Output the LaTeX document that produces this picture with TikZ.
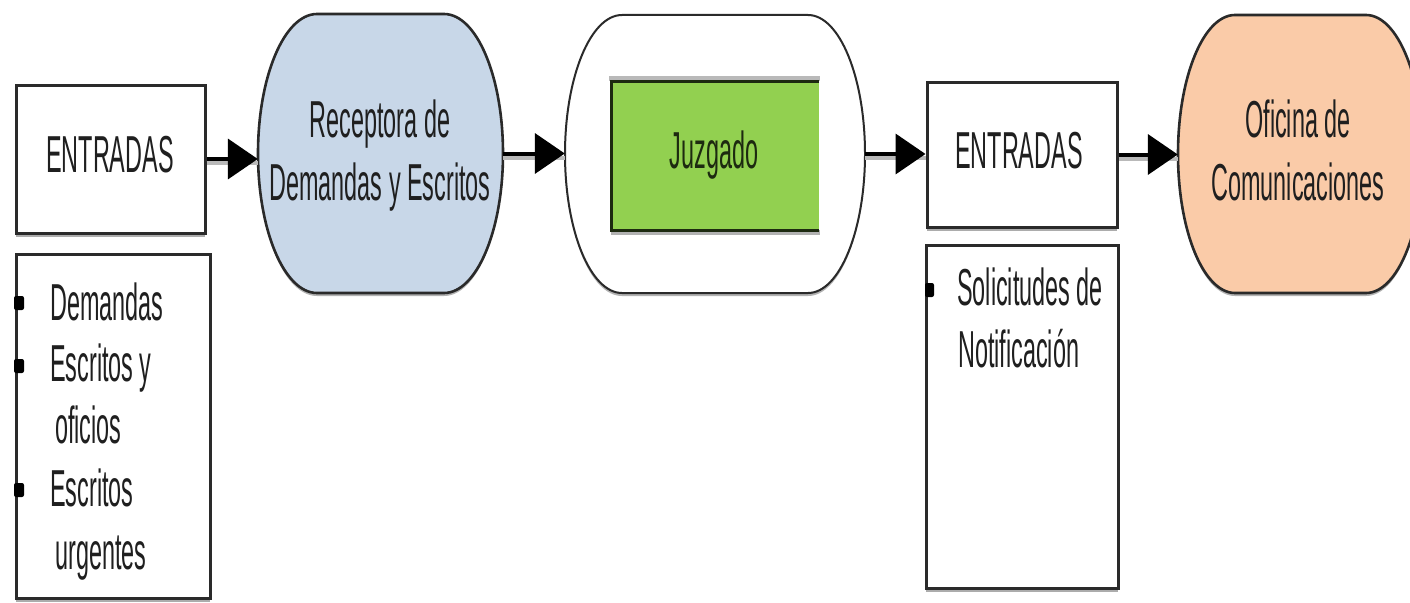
\documentclass[tikz,border=0pt]{standalone}
\usepackage{fontspec}
\newfontfamily\narsans[FakeStretch=0.45]{Liberation Sans}
\usetikzlibrary{arrows.meta,shadows}
\definecolor{recblue}{HTML}{C8D7E8}
\definecolor{ofipeach}{HTML}{FACBA8}
\definecolor{juzgreen}{HTML}{92D050}
\definecolor{edge}{HTML}{2A2A2A}
% x1 x2 top bottom rx : barrel-shaped process symbol
\newcommand\barrelshape[6]{%
\path[#1] (#2,#4) -- (#3,#4)
 .. controls ({#3+0.5523*#6},#4) and ({#3+#6},{#4+0.2238*(#5-#4)}) .. ({#3+#6},{0.5*(#4+#5)})
 .. controls ({#3+#6},{#5-0.2238*(#5-#4)}) and ({#3+0.5523*#6},#5) .. (#3,#5)
 -- (#2,#5)
 .. controls ({#2-0.5523*#6},#5) and ({#2-#6},{#5-0.2238*(#5-#4)}) .. ({#2-#6},{0.5*(#4+#5)})
 .. controls ({#2-#6},{#4+0.2238*(#5-#4)}) and ({#2-0.5523*#6},#4) .. (#2,#4) -- cycle;}
\tikzset{
  txt/.style={inner sep=0pt, anchor=base, text=black!88, font=\narsans\fontsize{52}{62}\selectfont},
  txtl/.style={txt, anchor=base west},
  boxnode/.style={draw=edge, line width=3pt, fill=white, inner sep=0pt,
     drop shadow={shadow xshift=0pt, shadow yshift=-4pt, fill=gray!65, opacity=1}},
  area/.style={inner sep=0pt, draw=none},
  shapeline/.style={draw=edge, line width=2.6pt,
     drop shadow={shadow xshift=0pt, shadow yshift=-3pt, fill=gray!60, opacity=1}},
  arr/.style={line width=4pt, black, -{Triangle[length=30pt,width=40pt]},
     preaction={draw=gray!55, line width=4pt, -, transform canvas={yshift=-4pt}}},
  bullet/.style={fill=black, rounded corners=2pt}
}
\begin{document}
\begin{tikzpicture}[x=1pt,y=-1pt]
\clip (0,0) rectangle (1410,602);
\fill[white] (0,0) rectangle (1410,602);

% ---- left ENTRADAS and list
\node[boxnode, minimum width=189pt, minimum height=148pt] (e1) at (110.5,159) {};
\node[txt] (e1t) at (110,172) {ENTRADAS};
\node[boxnode, minimum width=194pt, minimum height=344pt] (l1) at (113,426) {};
\node[txtl] (l1a) at (50,320) {Demandas};
\node[txtl] (l1b) at (50,381) {Escritos y};
\node[txtl] (l1c) at (55,443) {oficios};
\node[txtl] (l1d) at (50,506) {Escritos};
\node[txtl] (l1e) at (55,569) {urgentes};
\fill[bullet] (14,296) rectangle (24,310);
\fill[bullet] (14,359) rectangle (24,373);
\fill[bullet] (14,483) rectangle (24,497);

% ---- Receptora
\barrelshape{shapeline, fill=recblue}{317}{444}{14}{293}{59}
\node[area, minimum width=245pt, minimum height=279pt] (rec) at (380.5,153.5) {};
\node[txt] (rect1) at (380,137) {Receptora de};
\node[txt] (rect2) at (380,200) {Demandas y Escritos};

% ---- Juzgado
\barrelshape{draw=edge, line width=2pt, fill=white, drop shadow={shadow xshift=0pt, shadow yshift=-3pt, fill=gray!60, opacity=1}}{622}{808}{15}{293}{57}
\node[area, minimum width=300pt, minimum height=278pt] (juz) at (715,154) {};
\fill[gray!55] (609,76) rectangle (820,81);
\fill[gray!60] (611,230) rectangle (820,235);
\fill[juzgreen] (611,81) rectangle (819,230);
\draw[draw=black!80!juzgreen, line width=3pt] (819,81) -- (611,81) -- (611,230) -- (819,230);
\node[area, minimum width=208pt, minimum height=149pt] (juzin) at (715,155.5) {};
\node[txt, text=black!80!juzgreen] (juzt) at (714,168) {Juzgado};

% ---- right ENTRADAS and list
\node[boxnode, minimum width=190pt, minimum height=145pt] (e2) at (1022,154.5) {};
\node[txt] (e2t) at (1019,168) {ENTRADAS};
\node[boxnode, minimum width=192pt, minimum height=343pt] (l2) at (1022,416.5) {};
\node[txtl] (l2a) at (957,305) {Solicitudes de};
\node[txtl] (l2b) at (958,367) {Notificación};
\fill[bullet] (925,283) rectangle (934,297);

% ---- Oficina
\barrelshape{shapeline, fill=ofipeach}{1235}{1366}{15}{293}{57}
\node[area, minimum width=245pt, minimum height=278pt] (ofi) at (1300.5,154) {};
\node[txt] (ofit1) at (1298,137) {Oficina de};
\node[txt] (ofit2) at (1298,200) {Comunicaciones};

% ---- connectors
\draw[arr] (e1.east) -- (e1.east -| rec.west);
\draw[arr] (rec.east) -- (rec.east -| juz.west);
\draw[arr] (juz.east) -- (juz.east -| e2.west);
\draw[arr] (e2.east) -- (e2.east -| ofi.west);
\end{tikzpicture}
\end{document}
